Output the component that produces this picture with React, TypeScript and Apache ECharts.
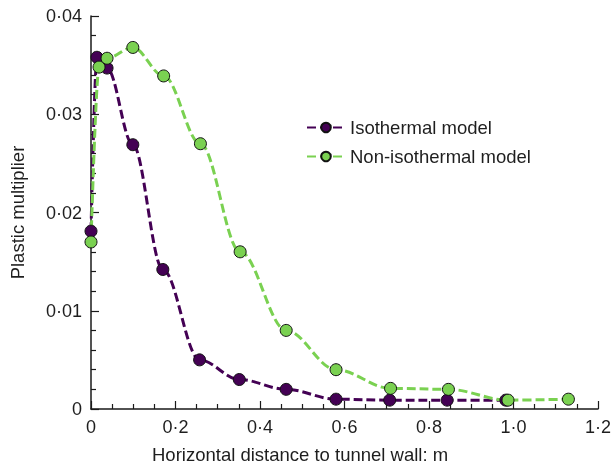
import React, { useEffect, useRef } from "react";
import * as echarts from "echarts";

const xIso = [0, 0.014, 0.038, 0.099, 0.17, 0.257, 0.351, 0.462, 0.58, 0.707, 0.843, 0.982];
const yIso = [0.0181, 0.0358, 0.0347, 0.0269, 0.0142, 0.005, 0.003, 0.002, 0.001, 0.0009, 0.0009, 0.0009];
const xNon = [0, 0.019, 0.038, 0.099, 0.172, 0.259, 0.353, 0.462, 0.58, 0.709, 0.846, 0.987, 1.13];
const yNon = [0.017, 0.0348, 0.0357, 0.0368, 0.0339, 0.027, 0.016, 0.008, 0.004, 0.0021, 0.002, 0.0009, 0.001];
const seriesNames = ["Isothermal model", "Non-isothermal model"];
const xTitle = "Horizontal distance to tunnel wall: m";
const yTitle = "Plastic multiplier";

const FONT = "Liberation Sans, Arial, sans-serif";
const AX = "#1a1a1a";
const TXT = "#1e1e1e";

export default function App() {
  const ref = useRef<HTMLDivElement>(null);
  useEffect(() => {
    const chart = echarts.init(ref.current!, null, { renderer: "svg" });
    const pair = (xs: number[], ys: number[]) => xs.map((x, i) => [x, ys[i]]);
    const mkSeries = (name: string, data: number[][], color: string) => ({
      name,
      type: "line",
      data,
      smooth: 0.35,
      smoothMonotone: "x",
      symbol: "circle",
      symbolSize: 12,
      lineStyle: { color, width: 3, type: [9, 4] },
      itemStyle: { color, borderColor: "#111", borderWidth: 1 },
    });
    chart.setOption({
      animation: false,
      textStyle: { fontFamily: FONT },
      grid: { left: 91, right: 13, top: 16, bottom: 57 },
      legend: {
        orient: "vertical",
        left: 301,
        top: 113,
        itemWidth: 38,
        itemHeight: 12,
        itemGap: 10,
        textStyle: { fontSize: 18.5, color: TXT, fontFamily: FONT },
        data: seriesNames,
      },
      xAxis: {
        type: "value",
        min: 0,
        max: 1.2,
        interval: 0.2,
        axisLine: { lineStyle: { color: AX, width: 1.5 } },
        axisTick: { inside: true, length: 8, lineStyle: { color: AX, width: 1.2 } },
        minorTick: { show: true, splitNumber: 4, length: 5, lineStyle: { color: AX, width: 1.2 } },
        splitLine: { show: false },
        axisLabel: {
          fontSize: 18,
          color: TXT,
          margin: 9,
          formatter: (v: number) => (v === 0 ? "0" : v.toFixed(1).replace(".", "·")),
        },
      },
      yAxis: {
        type: "value",
        min: 0,
        max: 0.04,
        interval: 0.01,
        name: yTitle,
        nameLocation: "middle",
        nameGap: 64,
        nameTextStyle: { fontSize: 18.5, color: TXT, fontFamily: FONT },
        axisLine: { show: true, lineStyle: { color: AX, width: 1.5 } },
        axisTick: { show: true, inside: true, length: 8, lineStyle: { color: AX, width: 1.2 } },
        minorTick: { show: true, splitNumber: 5, length: 5, lineStyle: { color: AX, width: 1.2 } },
        splitLine: { show: false },
        axisLabel: {
          fontSize: 18,
          color: TXT,
          margin: 9,
          formatter: (v: number) => (v === 0 ? "0" : v.toFixed(2).replace(".", "·")),
        },
      },
      graphic: [
        {
          type: "text",
          left: 152,
          top: 445,
          style: { text: xTitle, fontSize: 18.5, fill: TXT, fontFamily: FONT },
        },
      ],
      series: [
        mkSeries(seriesNames[0], pair(xIso, yIso), "#440154"),
        mkSeries(seriesNames[1], pair(xNon, yNon), "#7ad151"),
      ],
    });
    return () => chart.dispose();
  }, []);
  return <div ref={ref} style={{ position: "fixed", left: 0, top: 0, width: 614, height: 466 }} />;
}
